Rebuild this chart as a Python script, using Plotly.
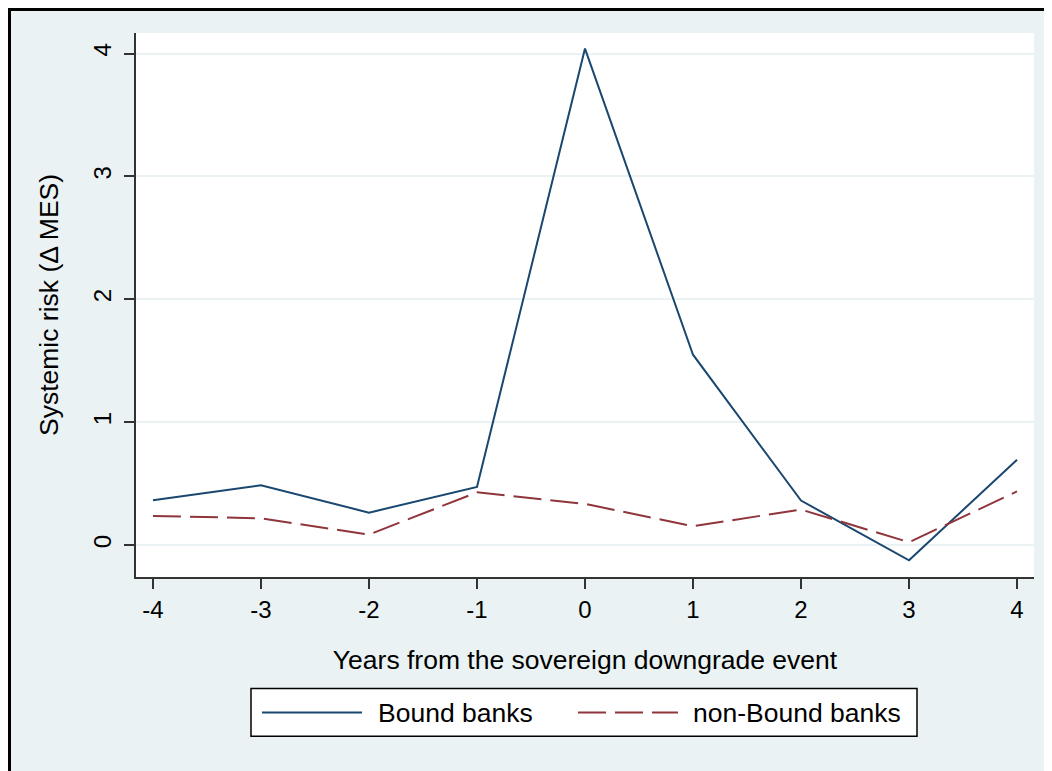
import plotly.graph_objects as go

years = [-4, -3, -2, -1, 0, 1, 2, 3, 4]
year_labels = ["-4", "-3", "-2", "-1", "0", "1", "2", "3", "4"]
bound = [0.364, 0.486, 0.264, 0.473, 4.04, 1.549, 0.362, -0.124, 0.695]
non_bound = [0.237, 0.218, 0.085, 0.429, 0.335, 0.153, 0.289, 0.023, 0.437]
y_ticks = [0, 1, 2, 3, 4]

NAVY = "#1a476f"
MAROON = "#90353b"
BG = "#eaf2f3"
FONT = "Liberation Sans, Arial, sans-serif"

OFF = 8  # page body margin
W, H = 1052 - OFF, 771 - OFF
# plot area in page pixels
L, R, T, B = 136, 1034, 33, 577.5

def px(x):
    return (x - L) / (R - L)

def py(y):
    return (B - y) / (B - T)

fig = go.Figure()
fig.add_trace(go.Scatter(x=years, y=bound, mode="lines", name="Bound banks",
                         line=dict(color=NAVY, width=2), showlegend=False))
fig.add_trace(go.Scatter(x=years, y=non_bound, mode="lines", name="non-Bound banks",
                         line=dict(color=MAROON, width=2, dash="28px,9px"), showlegend=False))

fig.update_layout(
    width=W, height=H,
    margin=dict(l=L - OFF, r=W - (R - OFF), t=T - OFF, b=H - (B - OFF)),
    paper_bgcolor=BG, plot_bgcolor="white",
    font=dict(family=FONT, size=24, color="black"),
)
fig.update_xaxes(range=[-4.157, 4.157], tickvals=years, ticktext=year_labels, ticks="outside", ticklen=10,
                 tickwidth=1.5, tickcolor="#333", showline=True, linecolor="#333", linewidth=1.5,
                 showgrid=False, zeroline=False, tickfont=dict(size=24),
                 title=dict(text="Years from the sovereign downgrade event", font=dict(size=26.5), standoff=29))
fig.update_yaxes(range=[-0.26, 4.167], tickvals=y_ticks, ticks="outside", ticklen=10,
                 tickwidth=1.5, tickcolor="#333", showline=True, linecolor="#333", linewidth=1.5,
                 showgrid=True, gridcolor=BG, gridwidth=2, zeroline=False, tickangle=-90,
                 tickfont=dict(size=24), ticklabelstandoff=4,
                 title=dict(text="Systemic risk (Δ MES)", font=dict(size=26.5), standoff=22))

shapes = []
# outer frame lines (top and left edges)
shapes.append(dict(type="line", xref="paper", yref="paper", x0=px(OFF), x1=px(1100), y0=py(OFF + 1.5), y1=py(OFF + 1.5),
                   line=dict(color="black", width=3)))
shapes.append(dict(type="line", xref="paper", yref="paper", x0=px(OFF + 1.5), x1=px(OFF + 1.5), y0=py(OFF), y1=py(800),
                   line=dict(color="black", width=3)))
# legend box
shapes.append(dict(type="rect", xref="paper", yref="paper", x0=px(251), x1=px(917), y0=py(689), y1=py(737),
                   fillcolor="white", line=dict(color="black", width=1.5)))
shapes.append(dict(type="line", xref="paper", yref="paper", x0=px(262), x1=px(362), y0=py(713), y1=py(713),
                   line=dict(color=NAVY, width=2)))
shapes.append(dict(type="line", xref="paper", yref="paper", x0=px(578), x1=px(678), y0=py(713), y1=py(713),
                   line=dict(color=MAROON, width=2, dash="28px,9px")))
fig.update_layout(shapes=shapes)

fig.add_annotation(text="Bound banks", xref="paper", yref="paper", x=px(376), y=py(714),
                   xanchor="left", yanchor="middle", showarrow=False, font=dict(size=26.5))
fig.add_annotation(text="non-Bound banks", xref="paper", yref="paper", x=px(691), y=py(714),
                   xanchor="left", yanchor="middle", showarrow=False, font=dict(size=26.5))

fig.write_html("out.html")
